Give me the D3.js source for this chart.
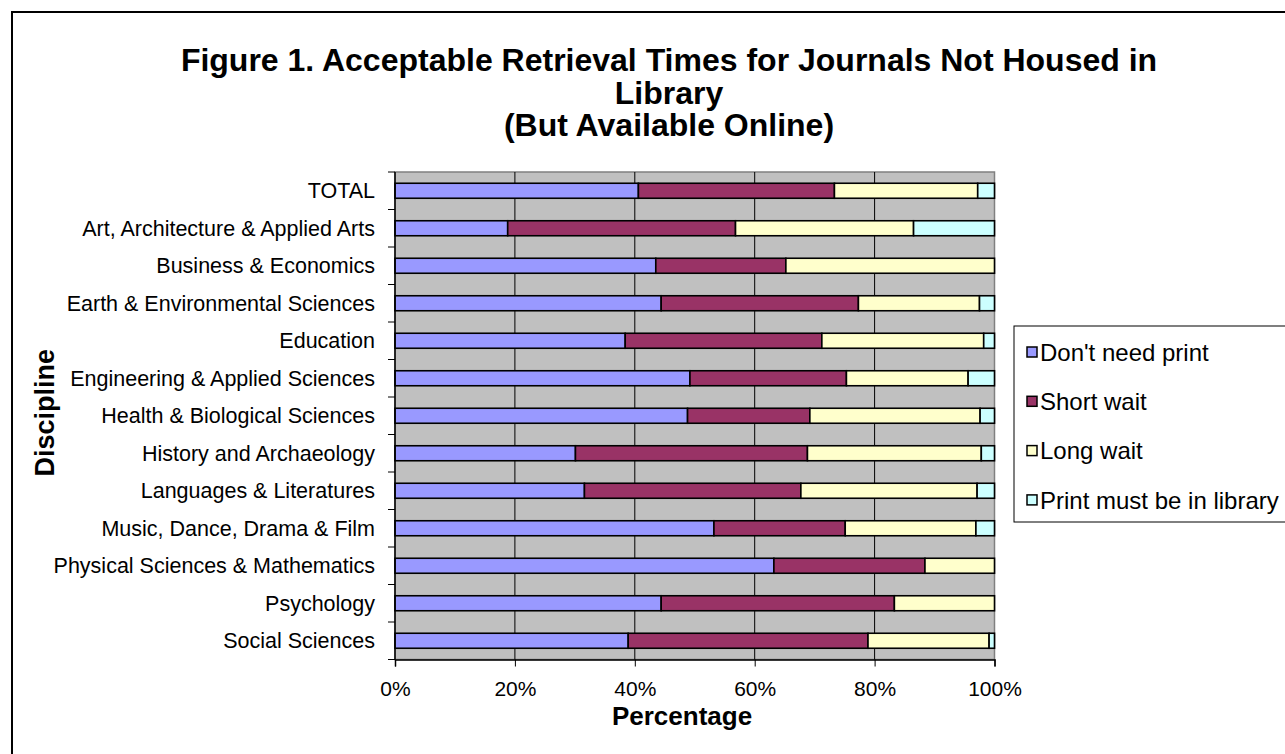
<!DOCTYPE html>
<html>
<head>
<meta charset="utf-8">
<script src="https://cdn.jsdelivr.net/npm/d3@7/dist/d3.min.js"></script>
<style>
  html, body { margin: 0; padding: 0; background: #fff; }
  svg { display: block; font-family: "Liberation Sans", Arial, sans-serif; }
</style>
</head>
<body>
<svg id="chart" width="1285" height="754"></svg>
<script>
const categories = [
  "TOTAL",
  "Art, Architecture & Applied Arts",
  "Business & Economics",
  "Earth & Environmental Sciences",
  "Education",
  "Engineering & Applied Sciences",
  "Health & Biological Sciences",
  "History and Archaeology",
  "Languages & Literatures",
  "Music, Dance, Drama & Film",
  "Physical Sciences & Mathematics",
  "Psychology",
  "Social Sciences"
];
const seriesNames = ["Don't need print", "Short wait", "Long wait", "Print must be in library"];
const dontNeedPrint = [40.6, 18.8, 43.5, 44.4, 38.4, 49.2, 48.8, 30.1, 31.6, 53.2, 63.2, 44.4, 38.9];
const shortWait     = [32.7, 38.0, 21.7, 32.9, 32.8, 26.1, 20.4, 38.7, 36.1, 21.9, 25.2, 38.9, 40.0];
const longWait      = [23.9, 29.7, 34.8, 20.2, 27.0, 20.3, 28.4, 29.0, 29.4, 21.8, 11.6, 16.7, 20.2];
const printInLib    = [ 2.8, 13.5,  0.0,  2.5,  1.8,  4.4,  2.4,  2.2,  2.9,  3.1,  0.0,  0.0,  0.9];
const xTicks = [0, 0.2, 0.4, 0.6, 0.8, 1.0];
const colors = ["#9999FF", "#993366", "#FFFFCC", "#CCFFFF"];

const titleLines = ["Figure 1. Acceptable Retrieval Times for Journals Not Housed in", "Library", "(But Available Online)"];

const rows = categories.map((c, i) => ({
  cat: c,
  s0: dontNeedPrint[i], s1: shortWait[i], s2: longWait[i], s3: printInLib[i]
}));
const keys = ["s0", "s1", "s2", "s3"];
const stacked = d3.stack().keys(keys).offset(d3.stackOffsetExpand)(rows);

const svg = d3.select("#chart");

// outer chart border (left & top visible)
svg.append("path").attr("d", "M12,760 L12,12 L1300,12")
  .attr("fill", "none").attr("stroke", "#000").attr("stroke-width", 2);

const plot = { left: 395, right: 994.5, top: 172, bottom: 659.5 };
const x = d3.scaleLinear().domain([0, 1]).range([plot.left, plot.right]);
const y = d3.scaleBand().domain(categories).range([plot.top, plot.bottom]).padding(0);
const barH = y.bandwidth() * 0.4;

// plot background
svg.append("rect")
  .attr("x", plot.left).attr("y", plot.top)
  .attr("width", plot.right - plot.left).attr("height", plot.bottom - plot.top)
  .attr("fill", "#C0C0C0").attr("stroke", "#808080").attr("stroke-width", 1.5);

// vertical gridlines
svg.append("g").selectAll("line").data(xTicks.slice(1, -1)).join("line")
  .attr("x1", d => x(d)).attr("x2", d => x(d))
  .attr("y1", plot.top).attr("y2", plot.bottom)
  .attr("stroke", "#000").attr("stroke-width", 1);

// bars
const gBars = svg.append("g");
stacked.forEach((layer, li) => {
  gBars.append("g").selectAll("rect")
    .data(layer.filter(d => d[1] - d[0] > 1e-9))
    .join("rect")
    .attr("x", d => x(d[0]))
    .attr("y", d => y(d.data.cat) + (y.bandwidth() - barH) / 2)
    .attr("width", d => x(d[1]) - x(d[0]))
    .attr("height", barH)
    .attr("fill", colors[li])
    .attr("stroke", "#000").attr("stroke-width", 1.6);
});

// x axis
const xAxis = d3.axisBottom(x).tickValues(xTicks).tickFormat(d3.format(".0%")).tickSize(7).tickPadding(8);
const gx = svg.append("g").attr("transform", `translate(0,${plot.bottom})`).call(xAxis);
gx.select(".domain").attr("stroke", "#000").attr("stroke-width", 1.5);
gx.selectAll(".tick line").attr("stroke", "#000");
gx.selectAll(".tick text").attr("font-size", 21).attr("fill", "#000")
  .attr("font-family", "Liberation Sans, Arial, sans-serif").attr("dy", 0).attr("y", 36);

// y axis: ticks at band boundaries
const boundaries = categories.map(c => y(c)).concat([plot.bottom]);
const gy = svg.append("g");
gy.append("line").attr("x1", plot.left).attr("x2", plot.left)
  .attr("y1", plot.top).attr("y2", plot.bottom).attr("stroke", "#000").attr("stroke-width", 1.5);
gy.selectAll("line.tk").data(boundaries).join("line").attr("class", "tk")
  .attr("x1", plot.left - 7).attr("x2", plot.left)
  .attr("y1", d => d).attr("y2", d => d).attr("stroke", "#000");
gy.selectAll("text").data(categories).join("text")
  .attr("x", 375)
  .attr("y", d => y(d) + y.bandwidth() / 2)
  .attr("dy", "0.35em")
  .attr("text-anchor", "end")
  .attr("font-size", 21.5)
  .attr("fill", "#000")
  .text(d => d);

// title
svg.append("g").selectAll("text").data(titleLines).join("text")
  .attr("x", 669)
  .attr("y", (d, i) => 71 + i * 32.5)
  .attr("text-anchor", "middle")
  .attr("font-size", 32).attr("font-weight", "bold").attr("fill", "#000")
  .text(d => d);

// axis titles
svg.append("text").attr("x", 682).attr("y", 725)
  .attr("text-anchor", "middle").attr("font-size", 26).attr("font-weight", "bold")
  .text("Percentage");
svg.append("text")
  .attr("transform", `translate(54,${(plot.top + plot.bottom) / 2 - 3}) rotate(-90)`)
  .attr("text-anchor", "middle").attr("font-size", 27).attr("font-weight", "bold")
  .text("Discipline");

// legend
const leg = svg.append("g");
leg.append("rect").attr("x", 1014).attr("y", 326).attr("width", 300).attr("height", 196)
  .attr("fill", "#fff").attr("stroke", "#000").attr("stroke-width", 1);
const legItems = leg.selectAll("g.item").data(seriesNames).join("g").attr("class", "item")
  .attr("transform", (d, i) => `translate(0,${352 + i * 49.3})`);
legItems.append("rect").attr("x", 1027).attr("y", -5).attr("width", 10).attr("height", 10)
  .attr("fill", (d, i) => colors[i]).attr("stroke", "#000").attr("stroke-width", 1.5);
legItems.append("text").attr("x", 1040).attr("y", 0).attr("dy", "0.36em")
  .attr("font-size", 24).attr("fill", "#000").text(d => d);
</script>
</body>
</html>
